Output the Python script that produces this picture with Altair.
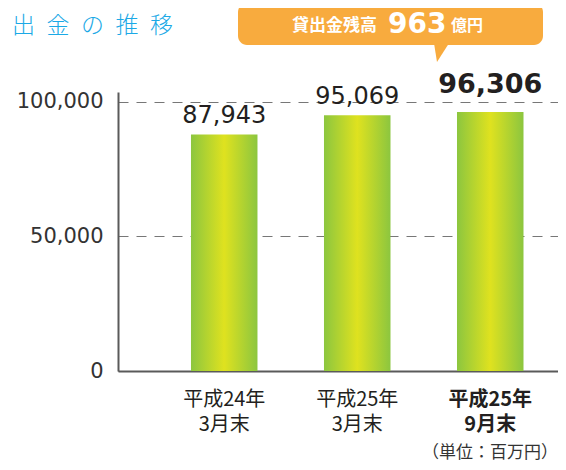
import altair as alt
import pandas as pd

# ---- data ----
categories = ["平成24年\n3月末", "平成25年\n3月末", "平成25年\n9月末"]
values = [87943, 95069, 96306]
highlight = [False, False, True]
y_ticks = [0, 50000, 100000]

title_text = "貸\u2002出\u2002金\u2002の\u2002推\u2002移"
callout_label = "貸出金残高"
callout_value = "963"
callout_unit = "億円"
unit_text = "（単位：百万円）"

df = pd.DataFrame({"cat": categories, "value": values, "hl": highlight})
one = pd.DataFrame({"k": [0]})

W, H = 440, 279
YMAX = 103717

xscale = alt.Scale(domain=categories, paddingInner=0.5, paddingOuter=0.404, align=0.679)
yscale = alt.Scale(domain=[0, YMAX], nice=False, zero=True)

grad = alt.Gradient(
    gradient="linear",
    stops=[
        alt.GradientStop(color="#8cc63f", offset=0),
        alt.GradientStop(color="#dfe21f", offset=0.5),
        alt.GradientStop(color="#8cc63f", offset=1),
    ],
    x1=0, x2=1, y1=0, y2=0,
)

base = alt.Chart(df)

bars = base.mark_bar(color=grad).encode(
    x=alt.X("cat:N", scale=xscale, sort=categories,
            axis=alt.Axis(labels=False, ticks=False, title=None, grid=False,
                          domainColor="#5a5a5a", domainWidth=2)),
    y=alt.Y("value:Q", scale=yscale,
            axis=alt.Axis(values=y_ticks, format=",d", title=None, ticks=False,
                          labelFont="DejaVu Sans", labelFontSize=21, labelColor="#333333",
                          labelPadding=15, domainColor="#5a5a5a", domainWidth=2,
                          grid=True, gridColor="#777777", gridDash=[10, 8], gridWidth=1)),
)

val_norm = base.transform_filter("!datum.hl").mark_text(
    font="DejaVu Sans", fontSize=24, color="#231f20", dy=-11, baseline="alphabetic"
).encode(x=alt.X("cat:N", sort=categories), y="value:Q", text=alt.Text("value:Q", format=",d"))

val_bold = base.transform_filter("datum.hl").mark_text(
    font="DejaVu Sans", fontSize=27, fontWeight="bold", color="#231f20", dy=-19, baseline="alphabetic"
).encode(x=alt.X("cat:N", sort=categories), y="value:Q", text=alt.Text("value:Q", format=",d"))

cat_norm = base.transform_filter("!datum.hl").mark_text(
    font="Noto Sans CJK JP", fontSize=20, color="#231f20", lineBreak="\n", lineHeight=25, baseline="top"
).encode(x=alt.X("cat:N", sort=categories), y=alt.value(H + 19), text="cat:N")

cat_bold = base.transform_filter("datum.hl").mark_text(
    font="Noto Sans CJK JP", fontSize=20, fontWeight="bold", color="#231f20", lineBreak="\n", lineHeight=25, baseline="top"
).encode(x=alt.X("cat:N", sort=categories), y=alt.value(H + 19), text="cat:N")

ann = alt.Chart(one)

title = ann.mark_text(
    text=title_text, font="Noto Sans CJK JP", fontSize=23, fontWeight=300, color="#1ba9e6",
    align="left", baseline="middle"
).encode(x=alt.value(-140.5), y=alt.value(-66.5))

orange = "#f8ab3e"
callout_box = ann.mark_rect(color=orange, cornerRadius=9).encode(
    x=alt.value(120), x2=alt.value(425), y=alt.value(-89), y2=alt.value(-47)
)
callout_tip = ann.mark_point(
    shape="M-0.88,-1.2 L0.88,-1.2 L-0.53,1 Z", filled=True, size=289, color=orange, opacity=1, strokeWidth=0
).encode(x=alt.value(323.5), y=alt.value(-38.5))

c_lab = ann.mark_text(
    text=callout_label, font="Noto Sans CJK JP", fontSize=17, fontWeight="bold", color="white",
    align="left", baseline="alphabetic"
).encode(x=alt.value(174), y=alt.value(-61))
c_val = ann.mark_text(
    text=callout_value, font="DejaVu Sans", fontSize=28, fontWeight="bold", color="white",
    align="left", baseline="alphabetic"
).encode(x=alt.value(270), y=alt.value(-59))
c_unit = ann.mark_text(
    text=callout_unit, font="Noto Sans CJK JP", fontSize=16, fontWeight="bold", color="white",
    align="left", baseline="alphabetic"
).encode(x=alt.value(333), y=alt.value(-61))

unit = ann.mark_text(
    text=unit_text, font="Noto Sans CJK JP", fontSize=17, color="#333333",
    align="right", baseline="bottom"
).encode(x=alt.value(W), y=alt.value(H + 91))

chart = alt.layer(
    bars, val_norm, val_bold, cat_norm, cat_bold,
    title, callout_box, callout_tip, c_lab, c_val, c_unit, unit
).properties(
    width=W, height=H,
    autosize="none",
    padding={"left": 110, "top": 84, "right": 0, "bottom": 91},
).configure_view(stroke=None)

chart.save("out.html", embed_options={"renderer": "svg", "actions": False})
